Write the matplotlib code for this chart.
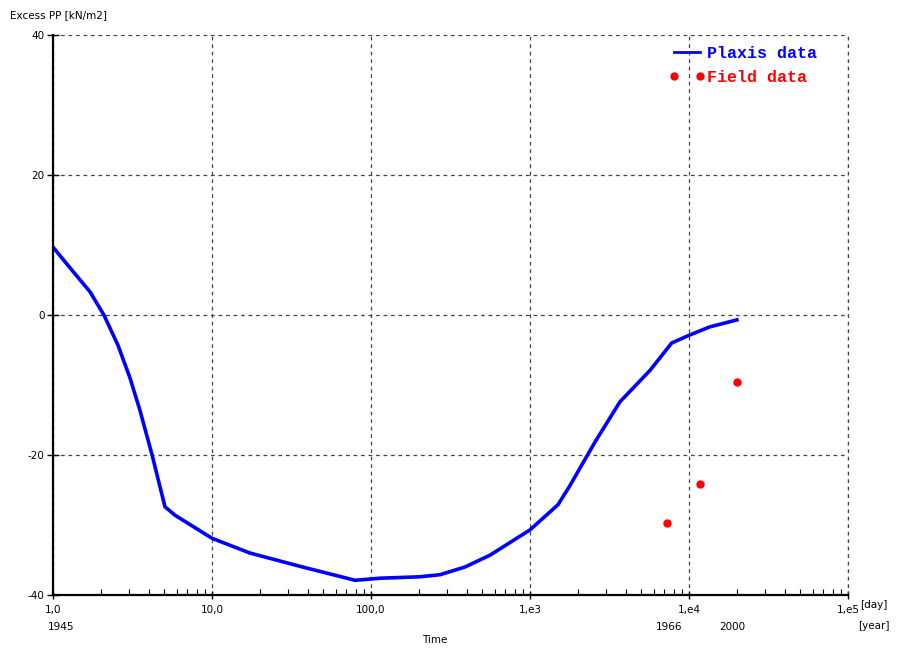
import numpy as np
import matplotlib
matplotlib.use('Agg')
import matplotlib.pyplot as plt
from matplotlib.ticker import FixedLocator, LogLocator, NullFormatter

# Plaxis curve: time [day] vs excess pore pressure [kN/m2]
plaxis_t = [1.0, 1.19, 1.71, 2.09, 2.56, 3.05, 3.52, 4.2, 5.06, 5.85, 10.0, 17.3,
            35.7, 79.4, 114, 203, 272, 390, 561, 1000, 1500, 1780, 2570, 3680,
            5690, 7780, 10000, 13500, 20000]
plaxis_pp = [9.7, 7.6, 3.3, 0.0, -4.3, -9.0, -13.6, -20.0, -27.4, -28.6, -31.9, -34.0,
             -35.9, -37.9, -37.6, -37.4, -37.1, -36.0, -34.3, -30.7, -27.1, -24.4, -18.1, -12.4,
             -7.9, -4.0, -2.9, -1.7, -0.7]

field_t = [7280, 11700, 20000]
field_pp = [-29.7, -24.1, -9.6]

xticks = [1, 10, 100, 1e3, 1e4, 1e5]
xticklabels = ['1,0', '10,0', '100,0', '1,e3', '1,e4', '1,e5']
yticks = [-40, -20, 0, 20, 40]

years = ['1945', '1966', '2000']
year_t = [1.0, 7500, 18700]

plt.rcParams['font.family'] = ['DejaVu Sans']
fs = 7.5

fig = plt.figure(figsize=(8.97, 6.48), dpi=100)
ax = fig.add_axes([53/897, 53/648, 795/897, 560/648])

ax.plot(plaxis_t, plaxis_pp, color='#0000ff', lw=2.6, label='Plaxis data')
ax.plot(field_t, field_pp, 'o', color='#ff0000', ms=5, ls='none', label='Field data')

ax.set_xscale('log')
ax.set_xlim(1, 1e5)
ax.set_ylim(-40, 40)
ax.xaxis.set_major_locator(FixedLocator(xticks))
ax.set_xticklabels(xticklabels, fontsize=fs)
ax.xaxis.set_minor_locator(LogLocator(base=10, subs=np.arange(2, 10)))
ax.xaxis.set_minor_formatter(NullFormatter())
ax.set_yticks(yticks)
ax.set_yticklabels([str(v) for v in yticks], fontsize=fs)

ax.grid(True, which='major', color='#444444', ls=(0, (3, 3)), lw=0.9)
ax.axvline(1e5, color='#444444', ls=(0, (3, 3)), lw=0.9, clip_on=False)
for s in ['top', 'right']:
    ax.spines[s].set_visible(False)
ax.spines['left'].set_linewidth(1.6)
ax.spines['bottom'].set_linewidth(1.6)
ax.tick_params(axis='x', which='major', direction='inout', length=6, width=1, pad=4)
ax.tick_params(axis='x', which='minor', direction='in', length=4, width=0.8)
ax.tick_params(axis='y', which='major', direction='inout', length=8, width=1, pad=2)

# secondary year labels below the day axis
for lab, t in zip(years, year_t):
    ax.annotate(lab, xy=(t, 0), xycoords=('data', 'axes fraction'),
                xytext=(0 if t > 1 else 6, -23), textcoords='offset points',
                ha='center', va='center', fontsize=fs)
fig.text(860/897, 1 - 605/648, '[day]', fontsize=fs, ha='left', va='center')
fig.text(858/897, 1 - 626/648, '[year]', fontsize=fs, ha='left', va='center')
fig.text(435/897, 1 - 640/648, 'Time', fontsize=fs, ha='center', va='center')
fig.text(10/897, 1 - 15/648, 'Excess PP [kN/m2]', fontsize=fs, ha='left', va='center')

leg = ax.legend(loc='upper right', bbox_to_anchor=(0.98, 1.008), frameon=False,
                numpoints=2, handlelength=2.2, handletextpad=0.1, labelspacing=0.55,
                prop={'family': 'Liberation Mono', 'weight': 'bold', 'size': 12})
leg.get_lines()[0].set_linewidth(2)
for txt, c in zip(leg.get_texts(), ['#0000ff', '#ff0000']):
    txt.set_color(c)

fig.savefig('out.png', dpi=100)
